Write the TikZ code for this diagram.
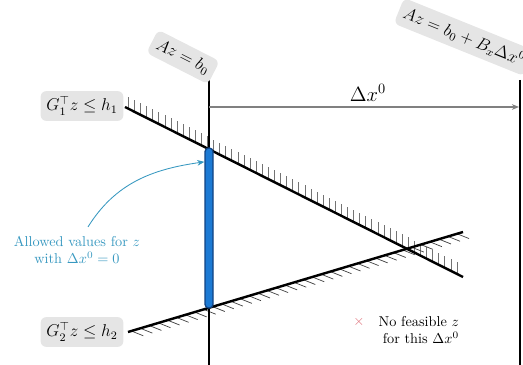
\documentclass[tikz,border=0pt]{standalone}
\usetikzlibrary{calc,arrows.meta}
\definecolor{barblue}{RGB}{28,122,212}
\definecolor{bardark}{RGB}{16,66,130}
\definecolor{noteblue}{RGB}{55,152,192}
\definecolor{crossred}{RGB}{222,110,120}
\begin{document}
\begin{tikzpicture}[x=0.7pt,y=-0.7pt,
  constraint/.style={line width=1.7pt, black},
  hatchup/.style={line width=0.5pt, black!55},
  hatchdown/.style={line width=0.5pt, black!75},
  eqbox/.style={fill=gray!20, rounded corners=4pt, inner sep=4pt, font=\large},
  shiftline/.style={line width=0.8pt, gray, -{Stealth[length=5pt,width=4pt]}},
  notearrow/.style={line width=0.6pt, noteblue, -{Stealth[length=5pt,width=4pt]}}]
\useasboundingbox (0,0) rectangle (523,365);

% named points
\coordinate (L1a) at (125,107);
\coordinate (L1b) at (463,277);
\coordinate (L2a) at (128,332);
\coordinate (L2b) at (463,232);
\coordinate (V0t) at (209,80);
\coordinate (V0b) at (209,365);
\coordinate (V1t) at (520,80);
\coordinate (V1b) at (520,365);
\coordinate (dxa) at (209,107);
\coordinate (dxb) at (519,107);

% hatching
\foreach \t in {0.01,0.028,...,1.0}
  \draw[hatchup] ($(L1a)!\t!(L1b)$) -- ++(0,-12);
\foreach \t in {0.01,0.037,...,1.0}
  \draw[hatchdown] ($(L2a)!\t!(L2b)$) -- ++(12,4.8);

% constraint lines
\draw[constraint] (L1a) -- (L1b);
\draw[constraint] (L2a) -- (L2b);

% equality lines
\draw[constraint] (V0t) -- (V0b);
\draw[constraint] (V1t) -- (V1b);

% shift arrow
\draw[shiftline] (dxa) -- (dxb);
\node[font=\Large] (dxlab) at (368,93) {$\Delta x^0$};

% feasible bar
\node[draw=bardark, fill=barblue, line width=0.9pt, rounded corners=2.6pt,
      minimum width=5.6pt, minimum height=112pt, inner sep=0pt] (bar) at (209,228) {};

% labels
\node[eqbox] (g1) at (82,106) {$G_1^\top z \le h_1$};
\node[eqbox] (g2) at (82,332) {$G_2^\top z \le h_2$};
\node[eqbox, rotate=-27] (eq0) at (183,57) {$Az = b_0$};
\node[eqbox, rotate=-22] (eq1) at (464,37) {$Az = b_0 + B_x \Delta x^0$};

% note
\node[text=noteblue, align=center] (note) at (77,250) {Allowed values for $z$\\with $\Delta x^0 = 0$};
\draw[notearrow] ([xshift=7.7pt,yshift=3pt]note.north) to[out=58,in=188]
  ($(bar.north west)!0.09!(bar.south west)$);

% infeasible note
\node[text=crossred, inner sep=0pt] (cross) at (359,322) {$\times$};
\node[align=right, anchor=east] (nofeas) at (464,330) {No feasible $z$\\for this $\Delta x^0$};
\end{tikzpicture}
\end{document}
